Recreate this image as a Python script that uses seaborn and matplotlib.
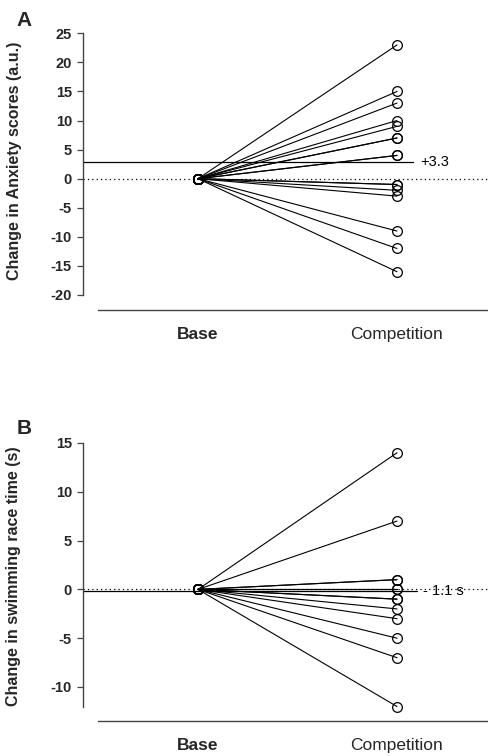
import matplotlib
matplotlib.use("Agg")
import matplotlib.pyplot as plt
import seaborn as sns
import pandas as pd

sns.set_theme(style="white")
plt.rcParams['font.family'] = ['Liberation Sans', 'DejaVu Sans']

conditions = ["Base", "Competition"]
anxiety_change = [23, 15, 13, 10, 9, 7, 7, 4, 4, -1, -1, -2, -3, -9, -12, -16]
race_change = [14, 7, 1, 1, 0, 0, -1, -1, -2, -3, -5, -7, -12]
anxiety_mean_label = "+3.3"
anxiety_mean_line = 2.8
race_mean_label = "- 1.1 s"
race_mean_line = -0.2
anxiety_ticks = [25, 20, 15, 10, 5, 0, -5, -10, -15, -20]
race_ticks = [15, 10, 5, 0, -5, -10]


def long_df(values):
    rows = []
    for i, v in enumerate(values):
        rows.append({"subject": i, "x": 0, "value": 0})
        rows.append({"subject": i, "x": 1, "value": v})
    return pd.DataFrame(rows)


W, H = 488, 756
fig = plt.figure(figsize=(W / 100, H / 100), dpi=100)

xl = (83 - 198) / 199
xr = (488 - 198) / 199
xaxis_start = (98 - 198) / 199


def setup(ax, df, ticks, ylim, spine_bounds, ylabel, mean_line, mean_label,
          mean_end, text_x):
    sns.lineplot(data=df, x="x", y="value", units="subject", estimator=None,
                 color="black", lw=0.8, marker="o", markersize=7,
                 markerfacecolor="none", markeredgecolor="black",
                 markeredgewidth=0.9, ax=ax, legend=False)
    ax.axhline(0, color="black", ls=(0, (1, 2.5)), lw=0.9, zorder=1)
    ax.plot([xl, mean_end], [mean_line, mean_line], color="black", lw=0.9,
            zorder=1)
    ax.text(text_x, mean_line, mean_label, fontsize=10.5, va="center",
            ha="left", color="black")
    ax.set_xlim(xl, xr)
    ax.set_ylim(*ylim)
    for s in ["top", "right"]:
        ax.spines[s].set_visible(False)
    ax.spines["left"].set_bounds(*spine_bounds)
    ax.spines["bottom"].set_bounds(xaxis_start, xr)
    for s in ["left", "bottom"]:
        ax.spines[s].set_color("#444444")
        ax.spines[s].set_linewidth(1.0)
    ax.set_yticks(ticks)
    ax.set_yticklabels([str(t) for t in ticks], fontweight="bold",
                       fontsize=10.5)
    ax.tick_params(axis="y", left=True, length=4, width=0.9,
                   color="#444444", pad=4, direction="out")
    ax.set_xticks([0, 1])
    ax.set_xticklabels(conditions, fontsize=12.5)
    ax.get_xticklabels()[0].set_fontweight("bold")
    ax.tick_params(axis="x", length=0, pad=12)
    ax.set_xlabel("")
    ax.set_ylabel(ylabel, fontweight="bold", fontsize=11.5)
    ax.grid(False)


# Panel A
top_px, bot_px = 20, 310
ppu = (295 - 33.3) / 45
zero_px = 33.3 + 25 * ppu
ylimA = (-(bot_px - zero_px) / ppu, (zero_px - top_px) / ppu)
axA = fig.add_axes([83 / W, 1 - bot_px / H, 1 - 83 / W, (bot_px - top_px) / H])
setup(axA, long_df(anxiety_change), anxiety_ticks, ylimA, (-20, 25),
      "Change in Anxiety scores (a.u.)", anxiety_mean_line, anxiety_mean_label,
      (413 - 198) / 199, (420 - 198) / 199)
axA.yaxis.set_label_coords((22 - 83) / (W - 83), (bot_px - 161) / (bot_px - top_px))

# Panel B
top_px, bot_px = 430, 721
ppu = (687 - 443) / 25
zero_px = 443 + 15 * ppu
ylimB = (-(bot_px - zero_px) / ppu, (zero_px - top_px) / ppu)
axB = fig.add_axes([83 / W, 1 - bot_px / H, 1 - 83 / W, (bot_px - top_px) / H])
setup(axB, long_df(race_change), race_ticks, ylimB, (-12, 15),
      "Change in swimming race time (s)", race_mean_line, race_mean_label,
      (417 - 198) / 199, (423 - 198) / 199)
axB.yaxis.set_label_coords((21 - 83) / (W - 83), (bot_px - 576) / (bot_px - top_px))

fig.text(24 / W, 1 - 21 / H, "A", fontsize=15, fontweight="bold",
         ha="center", va="center")
fig.text(24 / W, 1 - 428 / H, "B", fontsize=15, fontweight="bold",
         ha="center", va="center")

fig.savefig("out.png", dpi=100)
